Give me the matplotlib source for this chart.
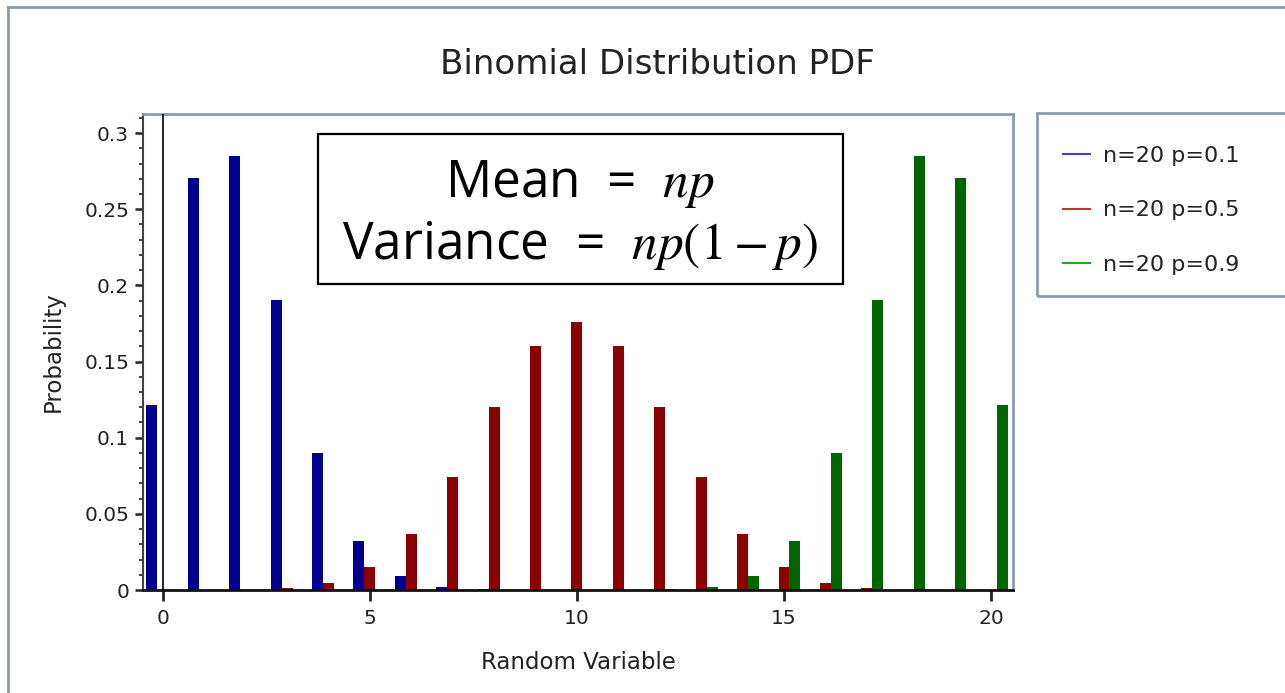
import matplotlib.pyplot as plt
import numpy as np
from matplotlib.lines import Line2D
from matplotlib.patches import Rectangle
from matplotlib.ticker import MultipleLocator, FormatStrFormatter

plt.rcParams['font.family'] = ['DejaVu Sans']
plt.rcParams['mathtext.fontset'] = 'stix'

# binomial pmf values, n = 20
k = np.arange(21)
p01 = [0.1216, 0.2702, 0.2852, 0.1901, 0.0898, 0.0319, 0.0089, 0.0020, 0.0004, 0.0001, 0.0,
       0.0, 0.0, 0.0, 0.0, 0.0, 0.0, 0.0, 0.0, 0.0, 0.0]
p05 = [0.0, 0.0, 0.0002, 0.0011, 0.0046, 0.0148, 0.0370, 0.0739, 0.1201, 0.1602, 0.1762,
       0.1602, 0.1201, 0.0739, 0.0370, 0.0148, 0.0046, 0.0011, 0.0002, 0.0, 0.0]
p09 = [0.0, 0.0, 0.0, 0.0, 0.0, 0.0, 0.0, 0.0, 0.0, 0.0, 0.0,
       0.0001, 0.0004, 0.0020, 0.0089, 0.0319, 0.0898, 0.1901, 0.2852, 0.2702, 0.1216]
labels = ['n=20 p=0.1', 'n=20 p=0.5', 'n=20 p=0.9']
bar_colors = ['#000090', '#8b0000', '#006400']
line_colors = ['#4040c8', '#c83030', '#30a030']

fig = plt.figure(figsize=(12.85, 6.93), dpi=100)
ax = fig.add_axes([143 / 1285, 103 / 693, 870 / 1285, 476 / 693])

w = 0.265
ax.bar(k - w, p01, width=w, color=bar_colors[0], zorder=2)
ax.bar(k, p05, width=w, color=bar_colors[1], zorder=2)
ax.bar(k + w, p09, width=w, color=bar_colors[2], zorder=2)
ax.axvline(0, color='black', lw=1.2, zorder=3)

ax.set_xlim(-0.48, 20.53)
ax.set_ylim(0, 0.3125)
ax.xaxis.set_major_locator(MultipleLocator(5))
ax.yaxis.set_major_locator(MultipleLocator(0.05))
ax.yaxis.set_minor_locator(MultipleLocator(0.01))
ax.yaxis.set_major_formatter(FormatStrFormatter('%g'))
ax.tick_params(axis='y', which='major', length=6, width=1.8, labelsize=14.5, colors='#222222', pad=4)
ax.tick_params(axis='y', which='minor', length=3, width=1.2, colors='#222222')
ax.tick_params(axis='x', which='major', length=8, width=2, labelsize=14.5, colors='#222222', pad=6)
for s in ['top', 'right']:
    ax.spines[s].set_color('#8a9bb0')
    ax.spines[s].set_linewidth(2)
ax.spines['left'].set_color('#444444')
ax.spines['left'].set_linewidth(1.5)
ax.spines['bottom'].set_color('#111111')
ax.spines['bottom'].set_linewidth(2)

ax.set_xlabel('Random Variable', fontsize=16.5, color='#222222', labelpad=16)
ax.set_ylabel('Probability', fontsize=16.5, color='#222222', labelpad=14)
fig.text(657 / 1285, 1 - 65 / 693, 'Binomial Distribution PDF', fontsize=24.5,
         ha='center', va='center', color='#222222')

# formula box
ax.add_patch(Rectangle((0.201, 0.643), 0.6035, 0.315, transform=ax.transAxes,
                       fill=True, facecolor='white', edgecolor='black', lw=1.6, zorder=5))
ax.text(0.502, 0.853, r'Mean  =  $np$', transform=ax.transAxes, fontsize=37,
        family='Open Sans', ha='center', va='center', zorder=6)
ax.text(0.502, 0.723, r'Variance  =  $np(1-p)$', transform=ax.transAxes, fontsize=37,
        family='Open Sans', ha='center', va='center', zorder=6)

# legend with its own frame running off the right edge
fig.patches.append(Rectangle((1037 / 1285, 1 - 296 / 693), 0.3, 183 / 693,
                             transform=fig.transFigure, fill=False,
                             edgecolor='#8a9bb0', lw=2))
handles = [Line2D([], [], color=c, lw=1.5) for c in line_colors]
fig.legend(handles, labels, loc='upper left', bbox_to_anchor=(1063 / 1285, 1 - 146 / 693),
           frameon=False, fontsize=16, handlelength=1.2, handletextpad=0.6,
           labelspacing=1.55, borderpad=0, borderaxespad=0, labelcolor='#222222')

# outer frame of the picture
fig.add_artist(Line2D([8 / 1285, 8 / 1285], [0, 1 - 7 / 693], transform=fig.transFigure,
                      color='#8a9bb0', lw=2))
fig.add_artist(Line2D([8 / 1285, 1], [1 - 7 / 693, 1 - 7 / 693], transform=fig.transFigure,
                      color='#8a9bb0', lw=2))

plt.savefig('out.png', dpi=100)
